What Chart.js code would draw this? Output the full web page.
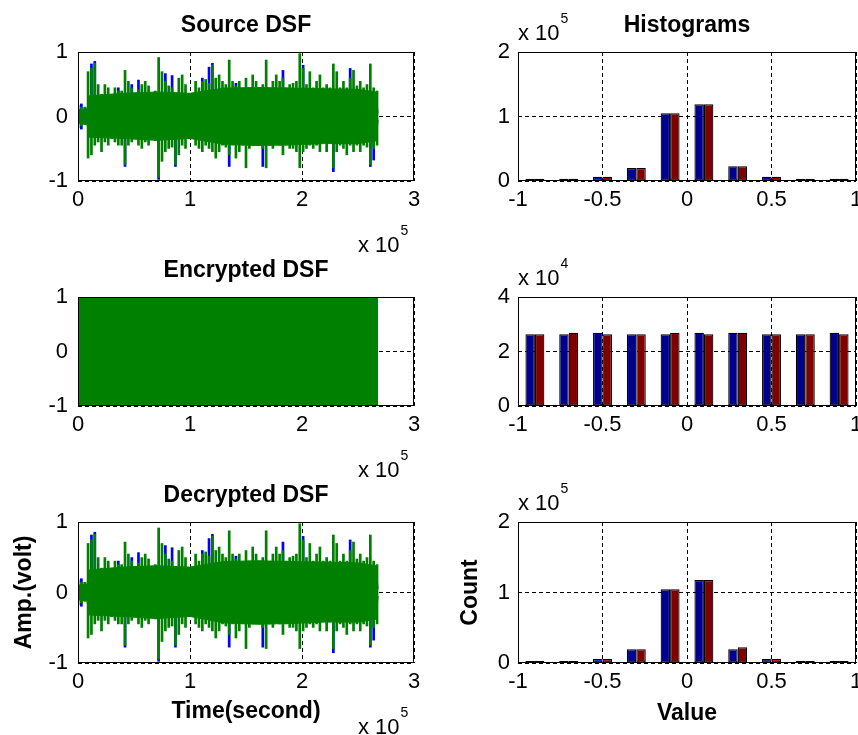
<!DOCTYPE html>
<html lang="en">
<head>
<meta charset="UTF-8">
<title>DSF encryption</title>
<script src="https://cdn.jsdelivr.net/npm/chart.js@4.4.1/dist/chart.umd.min.js"></script>
<style>
    * { margin: 0; padding: 0; box-sizing: border-box; }
    body { background: #fff; width: 858px; height: 735px; overflow: hidden; position: relative; }
    canvas { position: absolute; }
</style>
</head>
<body>
<canvas id="srcWave" width="429" height="260" style="left:0;top:0"></canvas>
<canvas id="srcHist" width="429" height="245" style="left:429px;top:0"></canvas>
<canvas id="encWave" width="429" height="240" style="left:0;top:245px"></canvas>
<canvas id="encHist" width="429" height="225" style="left:429px;top:245px"></canvas>
<canvas id="decWave" width="429" height="265" style="left:0;top:470px"></canvas>
<canvas id="decHist" width="429" height="265" style="left:429px;top:470px"></canvas>

<script>
// waveform columns, one every 3000 samples (peak high / peak low of each column)
const sampleStep = 3000;
const sourceHi = [0.12, 0.15, 0.15, 0.70, 0.75, 0.83, 0.50, 0.35, 0.50, 0.45,
    0.35, 0.45, 0.40, 0.40, 0.72, 0.55, 0.45, 0.35, 0.42, 0.50,
    0.55, 0.48, 0.32, 0.40, 0.92, 0.70, 0.55, 0.48, 0.45, 0.32,
    0.60, 0.65, 0.50, 0.35, 0.32, 0.55, 0.45, 0.55, 0.58, 0.52,
    0.80, 0.60, 0.65, 0.55, 0.50, 0.88, 0.55, 0.48, 0.55, 0.40,
    0.60, 0.45, 0.65, 0.55, 0.45, 0.50, 0.88, 0.42, 0.55, 0.65,
    0.55, 0.60, 0.45, 0.50, 0.52, 0.55, 0.98, 0.75, 0.50, 0.70,
    0.45, 0.55, 0.65, 0.45, 0.50, 0.45, 0.82, 0.70, 0.45, 0.55,
    0.45, 0.60, 0.72, 0.48, 0.55, 0.45, 0.50, 0.82, 0.45, 0.40];
const sourceLo = [-0.12, -0.15, -0.13, -0.65, -0.60, -0.45, -0.40, -0.55, -0.40, -0.45,
    -0.35, -0.40, -0.45, -0.45, -0.75, -0.45, -0.40, -0.35, -0.45, -0.50,
    -0.40, -0.45, -0.35, -0.38, -0.95, -0.70, -0.55, -0.50, -0.48, -0.75,
    -0.60, -0.45, -0.50, -0.30, -0.28, -0.45, -0.50, -0.55, -0.45, -0.50,
    -0.55, -0.65, -0.55, -0.45, -0.48, -0.60, -0.45, -0.65, -0.55, -0.45,
    -0.80, -0.50, -0.45, -0.40, -0.45, -0.50, -0.80, -0.45, -0.50, -0.40,
    -0.45, -0.60, -0.45, -0.50, -0.50, -0.55, -0.80, -0.55, -0.50, -0.45,
    -0.50, -0.45, -0.55, -0.30, -0.55, -0.40, -0.80, -0.55, -0.45, -0.50,
    -0.60, -0.45, -0.55, -0.45, -0.55, -0.45, -0.48, -0.75, -0.50, -0.45];

// dense body of the signal
const coreT = [0, 8000, 10000, 40000, 70000, 100000, 130000, 160000, 190000, 220000, 250000, 266000, 268000];
const coreHi = [0.10, 0.12, 0.32, 0.36, 0.38, 0.36, 0.44, 0.45, 0.44, 0.43, 0.42, 0.38, 0.05];
const coreLo = [-0.10, -0.12, -0.32, -0.34, -0.37, -0.34, -0.43, -0.45, -0.44, -0.42, -0.42, -0.38, -0.05];

// places where the blue trace sticks out past the green one
const blueT = [0, 3000, 12000, 15000, 36000, 42000, 48000, 54000, 72000, 78000, 84000, 87000,
    111000, 117000, 120000, 135000, 141000, 165000, 183000, 201000, 228000, 243000, 261000, 264000];
const blueHi = [0.18, 0.20, 0.82, 0.86, 0.45, 0, 0.50, 0.57, 0, 0.67, 0.64, 0,
    0.60, 0.77, 0.83, 0, 0.52, 0, 0.72, 0.80, 0, 0.75, 0, 0];
const blueLo = [-0.18, -0.20, 0, 0, 0, -0.78, 0, 0, -0.98, 0, 0, -0.78,
    0, 0, 0, -0.78, 0, -0.78, 0, 0, -0.86, 0, -0.78, -0.68];

// encrypted signal fills the whole range
const encryptedT = [0, 268000];
const encryptedHi = [1, 1];
const encryptedLo = -1;

// histograms
const binCenters = [-0.9, -0.7, -0.5, -0.3, -0.1, 0.1, 0.3, 0.5, 0.7, 0.9];
const srcHistBlue = [3500, 3500, 6500, 20000, 105000, 119000, 23000, 6500, 3500, 3500];
const srcHistRed = [3500, 3500, 6500, 20000, 105000, 119000, 23000, 6500, 3500, 3500];
const encHistBlue = [26300, 26300, 26900, 26300, 26300, 26900, 26900, 26300, 26300, 26900];
const encHistRed = [26300, 26900, 26300, 26300, 26900, 26300, 26900, 26300, 26300, 26300];
const decHistBlue = [3000, 3000, 5500, 19600, 104700, 117800, 19600, 5500, 3000, 3000];
const decHistRed = [3000, 3000, 5500, 19600, 104700, 117800, 22400, 5500, 3000, 3000];

const FONT = '"Liberation Sans", Arial, Helvetica, sans-serif';
const GREEN = 'rgb(0,128,0)';
const BLUE = 'rgb(0,0,255)';
const HIST_BLUE = 'rgb(0,0,143)';
const HIST_RED = 'rgb(128,0,0)';

Chart.defaults.font.family = FONT;
Chart.defaults.color = '#000';

// box around the axes, like matlab's "box on"
const axesBox = {
    id: 'axesBox',
    afterDatasetsDraw(chart) {
        const {ctx, chartArea: a} = chart;
        ctx.save();
        ctx.strokeStyle = '#000';
        ctx.lineWidth = 1;
        ctx.strokeRect(Math.round(a.left) + 0.5, Math.round(a.top) + 0.5,
            Math.round(a.width) - 1, Math.round(a.height) - 1);
        ctx.restore();
    }
};

// "x 10^n" multiplier label
const exponentLabel = {
    id: 'exponentLabel',
    afterDraw(chart, args, opts) {
        if (!opts || !opts.power) return;
        const {ctx, chartArea: a} = chart;
        ctx.save();
        ctx.fillStyle = '#000';
        ctx.textBaseline = 'alphabetic';
        ctx.textAlign = 'left';
        ctx.font = '22px ' + FONT;
        const base = 'x 10';
        const w = ctx.measureText(base).width;
        let x, y;
        if (opts.where === 'below') {
            x = a.right - 56;
            y = a.bottom + 71;
        } else {
            x = a.left;
            y = a.top - 12;
        }
        ctx.fillText(base, x, y);
        ctx.font = '14px ' + FONT;
        ctx.fillText(opts.power, x + w + 1, y - 17);
        ctx.restore();
    }
};

function axisX(min, max, step, div, height, titleText, titlePad) {
    return {
        type: 'linear', position: 'bottom', min: min, max: max, offset: false,
        afterFit: s => { s.height = height; s.paddingLeft = 0; s.paddingRight = 0; },
        ticks: {
            stepSize: step, padding: 6, autoSkip: false, maxRotation: 0,
            font: {size: 22}, color: '#000',
            callback: v => String(Math.round(v / div * 10) / 10)
        },
        grid: {color: '#000', lineWidth: 1, drawTicks: false, offset: false},
        border: {display: false, dash: [4, 3]},
        title: titleText
            ? {display: true, text: titleText, color: '#000', font: {size: 23, weight: 'bold'}, padding: {top: 0, bottom: titlePad}}
            : {display: false}
    };
}

function axisY(min, max, step, div, width, pad, titleText, titlePad) {
    return {
        type: 'linear', min: min, max: max,
        afterFit: s => { s.width = width; s.paddingTop = 0; s.paddingBottom = 0; },
        ticks: {
            stepSize: step, padding: pad, font: {size: 22}, color: '#000',
            callback: v => String(Math.round(v / div * 10) / 10)
        },
        grid: {color: '#000', lineWidth: 1, drawTicks: false},
        border: {display: false, dash: [4, 3]},
        title: titleText
            ? {display: true, text: titleText, color: '#000', font: {size: 23, weight: 'bold'}, padding: {top: titlePad, bottom: 0}}
            : {display: false}
    };
}

function chartOptions(scales, titleText, expo, rightPad) {
    return {
        responsive: false,
        animation: false,
        events: [],
        layout: {autoPadding: false, padding: {left: 0, right: rightPad, top: titleText ? 0 : 52, bottom: 0}},
        scales: scales,
        plugins: {
            legend: {display: false},
            tooltip: {enabled: false},
            title: titleText
                ? {display: true, text: titleText, fullSize: false, color: '#000',
                   font: {size: 23, weight: 'bold'}, padding: {top: 12, bottom: 12.4}}
                : {display: false},
            exponentLabel: expo
        }
    };
}

function waveDatasets(hi, lo) {
    return [
        {
            type: 'bar', order: 3, grouped: false,
            data: blueT.map((t, i) => ({x: t, y: [blueLo[i], blueHi[i]]})),
            backgroundColor: BLUE, borderWidth: 0,
            categoryPercentage: 1, barPercentage: 0.8
        },
        {
            type: 'bar', order: 2, grouped: false,
            data: hi.map((v, i) => ({x: i * sampleStep, y: [lo[i], v]})),
            backgroundColor: GREEN, borderWidth: 0,
            categoryPercentage: 1, barPercentage: 0.8
        },
        {
            type: 'line', order: 1,
            data: coreT.map((t, i) => ({x: t, y: coreHi[i]})),
            borderColor: GREEN, borderWidth: 1, pointRadius: 0,
            backgroundColor: GREEN, fill: '+1'
        },
        {
            type: 'line', order: 1,
            data: coreT.map((t, i) => ({x: t, y: coreLo[i]})),
            borderColor: GREEN, borderWidth: 1, pointRadius: 0, fill: false
        }
    ];
}

function histDatasets(blue, red) {
    const common = {borderColor: '#000', borderWidth: 1.2, borderSkipped: false,
        categoryPercentage: 0.56, barPercentage: 1};
    return [
        Object.assign({data: binCenters.map((c, i) => ({x: c, y: blue[i]})), backgroundColor: HIST_BLUE}, common),
        Object.assign({data: binCenters.map((c, i) => ({x: c, y: red[i]})), backgroundColor: HIST_RED}, common)
    ];
}

// Source DSF
new Chart(document.getElementById('srcWave'), {
    type: 'bar',
    data: {datasets: waveDatasets(sourceHi, sourceLo)},
    options: chartOptions({
        x: axisX(0, 300000, 100000, 100000, 79),
        y: axisY(-1, 1, 1, 1, 78, 10)
    }, 'Source DSF', {power: '5', where: 'below'}, 15),
    plugins: [axesBox, exponentLabel]
});

// Encrypted DSF
new Chart(document.getElementById('encWave'), {
    type: 'line',
    data: {datasets: [{
        data: encryptedT.map((t, i) => ({x: t, y: encryptedHi[i]})),
        borderColor: GREEN, borderWidth: 1, pointRadius: 0,
        backgroundColor: GREEN, fill: {value: encryptedLo}
    }]},
    options: chartOptions({
        x: axisX(0, 300000, 100000, 100000, 79),
        y: axisY(-1, 1, 1, 1, 78, 10)
    }, 'Encrypted DSF', {power: '5', where: 'below'}, 15),
    plugins: [axesBox, exponentLabel]
});

// Decrypted DSF
new Chart(document.getElementById('decWave'), {
    type: 'bar',
    data: {datasets: waveDatasets(sourceHi, sourceLo)},
    options: chartOptions({
        x: axisX(0, 300000, 100000, 100000, 72, 'Time(second)', 9.2),
        y: axisY(-1, 1, 1, 1, 78, 10, 'Amp.(volt)', 11)
    }, 'Decrypted DSF', {power: '5', where: 'below'}, 15),
    plugins: [axesBox, exponentLabel]
});

// Histograms
new Chart(document.getElementById('srcHist'), {
    type: 'bar',
    data: {datasets: histDatasets(srcHistBlue, srcHistRed)},
    options: chartOptions({
        x: axisX(-1, 1, 0.5, 1, 64),
        y: axisY(0, 200000, 100000, 100000, 89, 8)
    }, 'Histograms', {power: '5', where: 'above'}, 2),
    plugins: [axesBox, exponentLabel]
});

new Chart(document.getElementById('encHist'), {
    type: 'bar',
    data: {datasets: histDatasets(encHistBlue, encHistRed)},
    options: chartOptions({
        x: axisX(-1, 1, 0.5, 1, 64),
        y: axisY(0, 40000, 20000, 10000, 89, 8)
    }, null, {power: '4', where: 'above'}, 2),
    plugins: [axesBox, exponentLabel]
});

new Chart(document.getElementById('decHist'), {
    type: 'bar',
    data: {datasets: histDatasets(decHistBlue, decHistRed)},
    options: chartOptions({
        x: axisX(-1, 1, 0.5, 1, 72, 'Value', 7.2),
        y: axisY(0, 200000, 100000, 100000, 89, 8, 'Count', 28)
    }, null, {power: '5', where: 'above'}, 2),
    plugins: [axesBox, exponentLabel]
});
</script>
</body>
</html>
